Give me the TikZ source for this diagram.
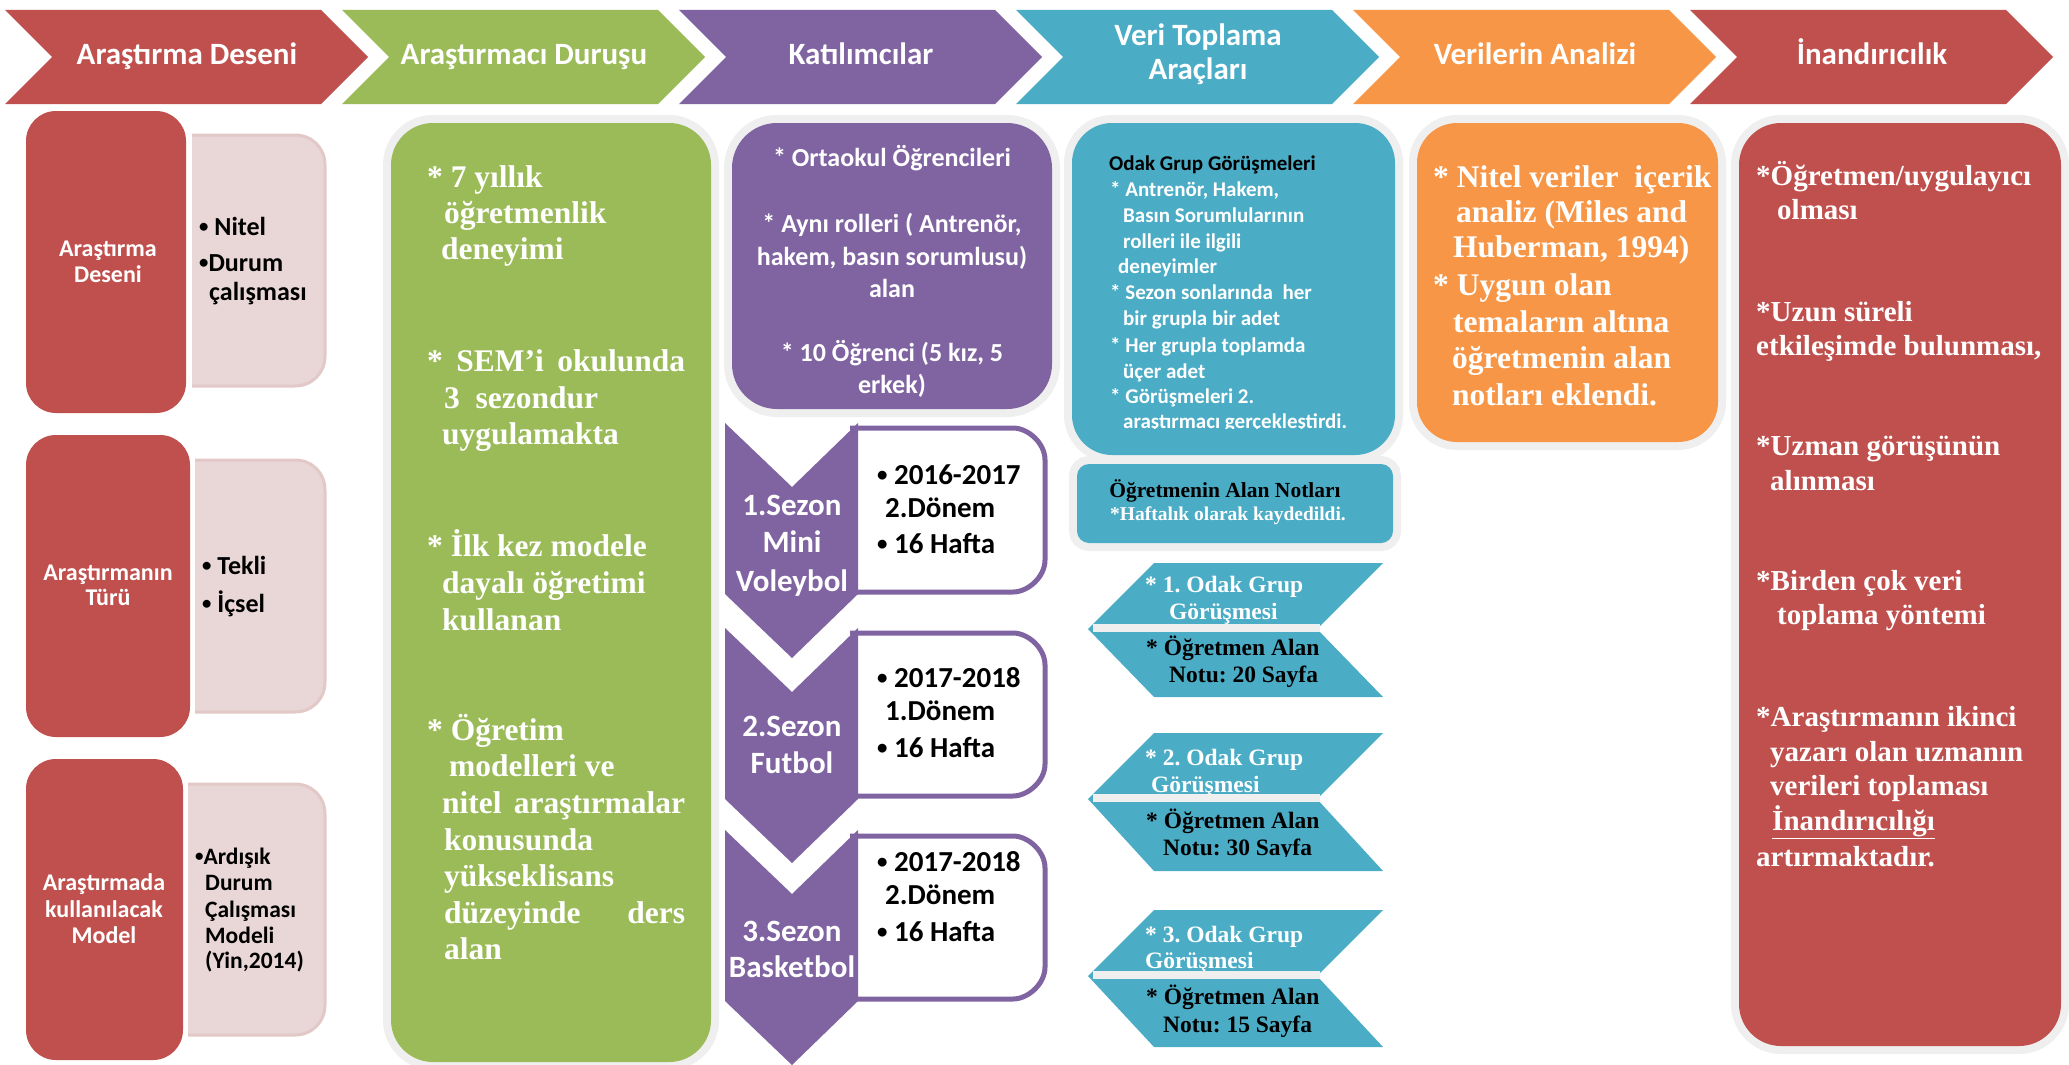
\documentclass[tikz,border=0pt]{standalone}
\usepackage{graphicx}
\usepackage{fontspec}
\setmainfont{Carlito}
\newfontfamily\tnr{Liberation Serif}
\frenchspacing
\definecolor{cRed}{HTML}{C0504D}
\definecolor{cGrn}{HTML}{9BBB59}
\definecolor{cPur}{HTML}{8064A2}
\definecolor{cTea}{HTML}{4BACC6}
\definecolor{cOrg}{HTML}{F79646}
\definecolor{cHalo}{HTML}{EFEFEF}
\definecolor{cPinkF}{HTML}{E9D6D6}
\definecolor{cPinkL}{HTML}{E3C8C8}
\newcounter{tlc}
\newcommand\bul{\raisebox{0.1em}{\scalebox{0.72}{•}}}
\newcommand\mytext[3]{\stepcounter{tlc}\node[lbl,#1] (t\arabic{tlc}) at (#2) {#3};}
\newcommand\hchev[2]{\fill[#2] (#1,10) -- ++(316,0) -- ++(47,47) -- ++(-47,47) -- ++(-316,0) -- ++(47,-47) -- cycle;}
\newcommand\halobox[4]{\draw[cHalo,line width=16pt,rounded corners=#4] (#2) rectangle (#3); \fill[#1,rounded corners=#4] (#2) rectangle (#3);}
\newcommand\pinkbox[4]{\filldraw[fill=cPinkF,draw=cPinkL,line width=3pt] (#1,#2) -- ({#3-30},#2) .. controls ({#3-13},#2) and (#3,{#2+13}) .. (#3,{#2+30}) -- (#3,{#4-30}) .. controls (#3,{#4-13}) and ({#3-13},#4) .. ({#3-30},#4) -- (#1,#4);}
\newcommand\seasonbox[2]{\filldraw[fill=white,draw=cPur,line width=5pt] (850,#1) -- (1013,#1) .. controls (1028,#1) and (1045,{#1+15}) .. (1045,{#1+32}) -- (1045,{#2-32}) .. controls (1045,{#2-15}) and (1028,#2) .. (1013,#2) -- (850,#2);}
\newcommand\seasonchev[1]{\fill[cPur] (725,#1) -- (792,{#1+64}) -- (858,#1) -- (858,{#1+171}) -- (792,{#1+235}) -- (725,{#1+171}) -- cycle;}
\newcommand\tealpair[2]{\fill[cTea] (1154,#1) -- (1383,#1) -- (1317,{#1+66}) -- (1383,{#1+#2}) -- (1154,{#1+#2}) -- (1088,{#1+66}) -- cycle;}
\newcommand\tealband[1]{\fill[cHalo] (1093,{#1+61}) rectangle (1320,{#1+69});}
\tikzset{
  lbl/.style={anchor=base west,inner sep=0pt},
  ctr/.style={anchor=base},
  hdr/.style={anchor=base,inner sep=0pt,text=white,font=\fontsize{31}{34}\selectfont\bfseries},
  lred/.style={ctr,text=white,font=\fontsize{24}{26}\selectfont\bfseries},
  pnk/.style={text=black,font=\fontsize{26}{29}\selectfont\bfseries},
  pnks/.style={text=black,font=\fontsize{23.5}{26}\selectfont\bfseries},
  grn/.style={text=white,font=\tnr\fontsize{31.5}{36}\selectfont\bfseries},
  purp/.style={ctr,text=white,font=\fontsize{26}{30}\selectfont\bfseries},
  seas/.style={ctr,text=white,font=\fontsize{31}{36}\selectfont\bfseries},
  sbul/.style={text=black,font=\fontsize{29}{33}\selectfont\bfseries},
  odk/.style={text=white,font=\fontsize{21}{26}\selectfont\bfseries},
  alnt/.style={ctr,text=black,font=\tnr\fontsize{21.5}{24}\selectfont\bfseries},
  alns/.style={ctr,text=white,font=\tnr\fontsize{19.5}{24}\selectfont\bfseries},
  arww/.style={text=white,font=\tnr\fontsize{23.5}{27}\selectfont\bfseries},
  arwb/.style={text=black,font=\tnr\fontsize{23.5}{27}\selectfont\bfseries},
  org/.style={text=white,font=\tnr\fontsize{31.5}{36}\selectfont\bfseries},
  rrd/.style={text=white,font=\tnr\fontsize{29}{35}\selectfont\bfseries},
}
\begin{document}
\begin{tikzpicture}[x=1pt,y=-1pt]
\useasboundingbox (0,0) rectangle (2069,1065);
\fill[white] (0,0) rectangle (2069,1065);

% ---------- header chevrons ----------
\hchev{5}{cRed}
\hchev{342}{cGrn}
\hchev{679}{cPur}
\hchev{1016}{cTea}
\hchev{1353}{cOrg}
\hchev{1690}{cRed}
\node[hdr] (h1) at (187,65) {Araştırma Deseni};
\node[hdr] (h2) at (524,65) {Araştırmacı Duruşu};
\node[hdr] (h3) at (861,65) {Katılımcılar};
\node[hdr] (h4a) at (1198,46) {Veri Toplama};
\node[hdr] (h4b) at (1198,80) {Araçları};
\node[hdr] (h5) at (1535,65) {Verilerin Analizi};
\node[hdr] (h6) at (1872,65) {İnandırıcılık};

% ---------- left column ----------
\fill[cRed,rounded corners=30pt] (26,111) rectangle (186,413);
\pinkbox{192}{135}{325}{386}
\fill[cRed,rounded corners=30pt] (26,435) rectangle (190,737);
\pinkbox{195}{460}{325}{712}
\fill[cRed,rounded corners=30pt] (26,759) rectangle (183,1060);
\pinkbox{188}{784}{325}{1035}

\mytext{lred}{108,256}{Araştırma}
\mytext{lred}{108,282}{Deseni}
\mytext{pnk}{199,235}{\bul\ Nitel}
\mytext{pnk}{199,271}{\bul Durum}
\mytext{pnk}{209,300}{çalışması}

\mytext{lred}{108,580}{Araştırmanın}
\mytext{lred}{108,605}{Türü}
\mytext{pnk}{202,574}{\bul\ Tekli}
\mytext{pnk}{202,612}{\bul\ İçsel}

\mytext{lred}{104,890}{Araştırmada}
\mytext{lred}{104,917}{kullanılacak}
\mytext{lred}{104,943}{Model}
\mytext{pnks}{195,864}{\bul Ardışık}
\mytext{pnks}{205,890}{Durum}
\mytext{pnks}{205,917}{Çalışması}
\mytext{pnks}{205,943}{Modeli}
\mytext{pnks}{205,968}{(Yin,2014)}

% ---------- green column ----------
\halobox{cGrn}{391,123}{711,1062}{42pt}
\mytext{grn}{427,187}{* 7 yıllık}
\mytext{grn}{444,223}{öğretmenlik}
\mytext{grn}{441,259}{deneyimi}
\mytext{grn}{427,371}{\makebox[258pt][s]{* SEM’i okulunda}}
\mytext{grn}{444,408}{3\ \ sezondur}
\mytext{grn}{442,444}{uygulamakta}
\mytext{grn}{427,556}{* İlk kez modele}
\mytext{grn}{442,593}{dayalı öğretimi}
\mytext{grn}{442,630}{kullanan}
\mytext{grn}{427,740}{* Öğretim}
\mytext{grn}{449,776}{modelleri ve}
\mytext{grn}{442,813}{\makebox[243pt][s]{nitel araştırmalar}}
\mytext{grn}{444,850}{konusunda}
\mytext{grn}{444,886}{yükseklisans}
\mytext{grn}{444,923}{\makebox[241pt][s]{düzeyinde ders}}
\mytext{grn}{444,959}{alan}

% ---------- purple column ----------
\halobox{cPur}{732,123}{1052,409}{45pt}
\mytext{purp}{892,166}{* Ortaokul Öğrencileri}
\mytext{purp}{892,232}{* Aynı rolleri ( Antrenör,}
\mytext{purp}{892,265}{hakem, basın sorumlusu)}
\mytext{purp}{892,297}{alan}
\mytext{purp}{892,361}{* 10 Öğrenci (5 kız, 5}
\mytext{purp}{892,393}{erkek)}

\seasonbox{428}{592}
\seasonbox{633}{796}
\seasonbox{836}{999}
\seasonchev{423}
\seasonchev{628}
\seasonchev{830}
\mytext{seas}{792,515}{1.Sezon}
\mytext{seas}{792,552}{Mini}
\mytext{seas}{792,591}{Voleybol}
\mytext{seas}{792,736}{2.Sezon}
\mytext{seas}{792,773}{Futbol}
\mytext{seas}{792,941}{3.Sezon}
\mytext{seas}{792,977}{Basketbol}
\mytext{sbul}{877,484}{\bul\ 2016-2017}
\mytext{sbul}{885,517}{2.Dönem}
\mytext{sbul}{877,553}{\bul\ 16 Hafta}
\mytext{sbul}{877,687}{\bul\ 2017-2018}
\mytext{sbul}{885,720}{1.Dönem}
\mytext{sbul}{877,757}{\bul\ 16 Hafta}
\mytext{sbul}{877,871}{\bul\ 2017-2018}
\mytext{sbul}{885,904}{2.Dönem}
\mytext{sbul}{877,941}{\bul\ 16 Hafta}

% ---------- teal column ----------
\halobox{cTea}{1072,123}{1395,455}{40pt}
\halobox{cTea}{1077,464}{1393,543}{12pt}
\mytext{odk,text=black}{1109,170}{Odak Grup Görüşmeleri}
\mytext{odk}{1110,196}{* Antrenör, Hakem,}
\mytext{odk}{1123,222}{Basın Sorumlularının}
\mytext{odk}{1123,248}{rolleri ile ilgili}
\mytext{odk}{1118,273}{deneyimler}
\mytext{odk}{1110,299}{* Sezon sonlarında\ \ her}
\mytext{odk}{1123,325}{bir grupla bir adet}
\mytext{odk}{1110,352}{* Her grupla toplamda}
\mytext{odk}{1123,378}{üçer adet}
\mytext{odk}{1110,403}{* Görüşmeleri 2.}
\begin{scope}
\clip (1080,405) rectangle (1390,428.5);
\mytext{odk}{1123,428}{araştırmacı gerçekleştirdi.}
\end{scope}
\mytext{alnt}{1225,497}{Öğretmenin Alan Notları}
\mytext{alns}{1228,520}{*Haftalık olarak kaydedildi.}

\tealpair{563}{134}
\tealpair{733}{138}
\tealpair{910}{137}
\mytext{arww}{1145,592}{* 1. Odak Grup}
\mytext{arww}{1169,619}{Görüşmesi}
\mytext{arwb}{1146,655}{* Öğretmen Alan}
\mytext{arwb}{1169,682}{Notu: 20 Sayfa}
\mytext{arww}{1145,765}{* 2. Odak Grup}
\mytext{arww}{1151,792}{Görüşmesi}
\mytext{arwb}{1146,828}{* Öğretmen Alan}
\begin{scope}
\clip (1090,830) rectangle (1390,856);
\mytext{arwb}{1163,855}{Notu: 30 Sayfa}
\end{scope}
\mytext{arww}{1145,942}{* 3. Odak Grup}
\mytext{arww}{1145,968}{Görüşmesi}
\mytext{arwb}{1146,1004}{* Öğretmen Alan}
\mytext{arwb}{1163,1032}{Notu: 15 Sayfa}
\tealband{563}
\tealband{733}
\tealband{910}

% ---------- orange column ----------
\halobox{cOrg}{1417,123}{1718,442}{40pt}
\mytext{org}{1433,187}{* Nitel veriler\ \ içerik}
\mytext{org}{1456,222}{analiz (Miles and}
\mytext{org}{1453,257}{Huberman, 1994)}
\mytext{org}{1433,295}{* Uygun olan}
\mytext{org}{1453,332}{temaların altına}
\mytext{org}{1452,368}{öğretmenin alan}
\mytext{org}{1452,405}{notları eklendi.}

% ---------- right red column ----------
\halobox{cRed}{1739,123}{2061,1046}{42pt}
\mytext{rrd}{1756,185}{*Öğretmen/uygulayıcı}
\mytext{rrd}{1777,219}{olması}
\mytext{rrd}{1756,321}{*Uzun süreli}
\mytext{rrd}{1756,355}{etkileşimde bulunması,}
\mytext{rrd}{1756,455}{*Uzman görüşünün}
\mytext{rrd}{1770,490}{alınması}
\mytext{rrd}{1756,590}{*Birden çok veri}
\mytext{rrd}{1777,624}{toplama yöntemi}
\mytext{rrd}{1756,726}{*Araştırmanın ikinci}
\mytext{rrd}{1770,761}{yazarı olan uzmanın}
\mytext{rrd}{1770,795}{verileri toplaması}
\mytext{rrd}{1772,830}{\underline{İnandırıcılığı}}
\mytext{rrd}{1756,866}{artırmaktadır.}
\end{tikzpicture}
\end{document}
